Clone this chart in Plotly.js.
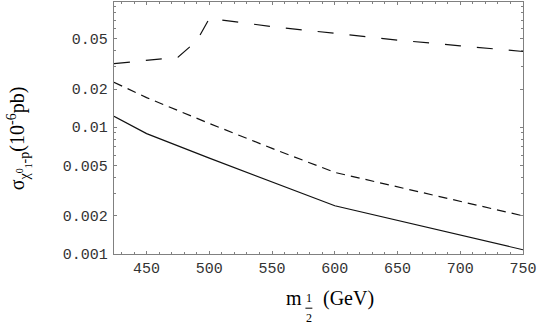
<!DOCTYPE html>
<html>
<head>
<meta charset="utf-8">
<script src="https://cdn.plot.ly/plotly-3.0.1.min.js"></script>
<style>html,body{margin:0;padding:0;background:#fff;}#chart{width:545px;height:327px;}</style>
</head>
<body>
<div id="chart"></div>
<script>
// Solid line
var solidX = [424, 450, 500, 550, 600, 750];
var solidY = [0.0122, 0.0089, 0.0057, 0.0037, 0.0024, 0.00108];
// Short dashed line
var shortX = [424, 450, 500, 550, 600, 750];
var shortY = [0.0226, 0.0171, 0.0107, 0.0068, 0.0044, 0.0020];
// Long dashed line
var longX = [424, 475, 490, 500, 550, 600, 650, 700, 750];
var longY = [0.0317, 0.0356, 0.048, 0.072, 0.0621, 0.0548, 0.0486, 0.0438, 0.0395];

var yTickVals = [0.001, 0.002, 0.005, 0.01, 0.02, 0.05];
var yTickText = ["0.001", "0.002", "0.005", "0.01", "0.02", "0.05"];
var yMinorVals = [0.003, 0.004, 0.006, 0.007, 0.008, 0.009, 0.03, 0.04, 0.06, 0.07, 0.08, 0.09];
var xTickVals = [450, 500, 550, 600, 650, 700, 750];
var xMinorVals = [430, 440, 460, 470, 480, 490, 510, 520, 530, 540, 560, 570, 580, 590, 610, 620, 630, 640, 660, 670, 680, 690, 710, 720, 730, 740];

var frameColor = '#808080';
var tickFont = {family: 'Liberation Mono, DejaVu Sans Mono, monospace', size: 15, color: '#333'};
var serif = 'Liberation Serif, Times New Roman, serif';

var traces = [
  {x: solidX, y: solidY, mode: 'lines', line: {color: '#111', width: 1.2}, hoverinfo: 'skip'},
  {x: shortX, y: shortY, mode: 'lines', line: {color: '#111', width: 1.2, dash: '9px,6px'}, hoverinfo: 'skip'},
  {x: longX, y: longY, mode: 'lines', line: {color: '#111', width: 1.2, dash: '16px,16px'}, hoverinfo: 'skip'}
];

var axisCommon = {
  showgrid: false, zeroline: false, showline: true, mirror: 'allticks',
  linecolor: frameColor, linewidth: 1.2, ticks: 'inside', ticklen: 3,
  tickcolor: frameColor, tickwidth: 1, tickfont: tickFont
};

var layout = {
  width: 545, height: 327,
  margin: {l: 114, r: 22, t: 2, b: 73},
  paper_bgcolor: '#fff', plot_bgcolor: '#fff',
  showlegend: false,
  xaxis: Object.assign({}, axisCommon, {
    range: [424, 750],
    tickmode: 'array', tickvals: xTickVals, ticktext: xTickVals.map(String),
    minor: {tickmode: 'array', tickvals: xMinorVals, ticks: 'inside', ticklen: 2, tickcolor: frameColor, tickwidth: 1}
  }),
  yaxis: Object.assign({}, axisCommon, {
    type: 'log', range: [-3, -1.013],
    tickmode: 'array', tickvals: yTickVals, ticktext: yTickText,
    ticklabelstandoff: 2,
    minor: {tickmode: 'array', tickvals: yMinorVals, ticks: 'inside', ticklen: 2, tickcolor: frameColor, tickwidth: 1}
  }),
  annotations: [
    {xref: 'paper', yref: 'paper', x: -0.232, y: 0.46, xanchor: 'center', yanchor: 'middle',
     textangle: -90, showarrow: false,
     text: 'σ<sub>χ<sup>0</sup><sub>1</sub>-p</sub>(10<sup>-6</sup>pb)',
     font: {family: serif, size: 20, color: '#000'}},
    {xref: 'paper', yref: 'paper', x: 0.465, y: -0.175, xanchor: 'right', yanchor: 'middle', showarrow: false,
     text: 'm', font: {family: serif, size: 20, color: '#000'}},
    {xref: 'paper', yref: 'paper', x: 0.476, y: -0.205, xanchor: 'center', yanchor: 'bottom', showarrow: false,
     borderpad: 0, text: '1', font: {family: serif, size: 12, color: '#000'}},
    {xref: 'paper', yref: 'paper', x: 0.476, y: -0.224, xanchor: 'center', yanchor: 'top', showarrow: false,
     borderpad: 0, text: '2', font: {family: serif, size: 12, color: '#000'}},
    {xref: 'paper', yref: 'paper', x: 0.505, y: -0.175, xanchor: 'left', yanchor: 'middle', showarrow: false,
     text: '(GeV)', font: {family: serif, size: 20, color: '#000'}}
  ],
  shapes: [
    {type: 'line', xref: 'paper', yref: 'paper', x0: 0.468, x1: 0.485, y0: -0.215, y1: -0.215,
     line: {color: '#000', width: 1}}
  ]
};

Plotly.newPlot('chart', traces, layout, {staticPlot: true, displayModeBar: false});
</script>
</body>
</html>
